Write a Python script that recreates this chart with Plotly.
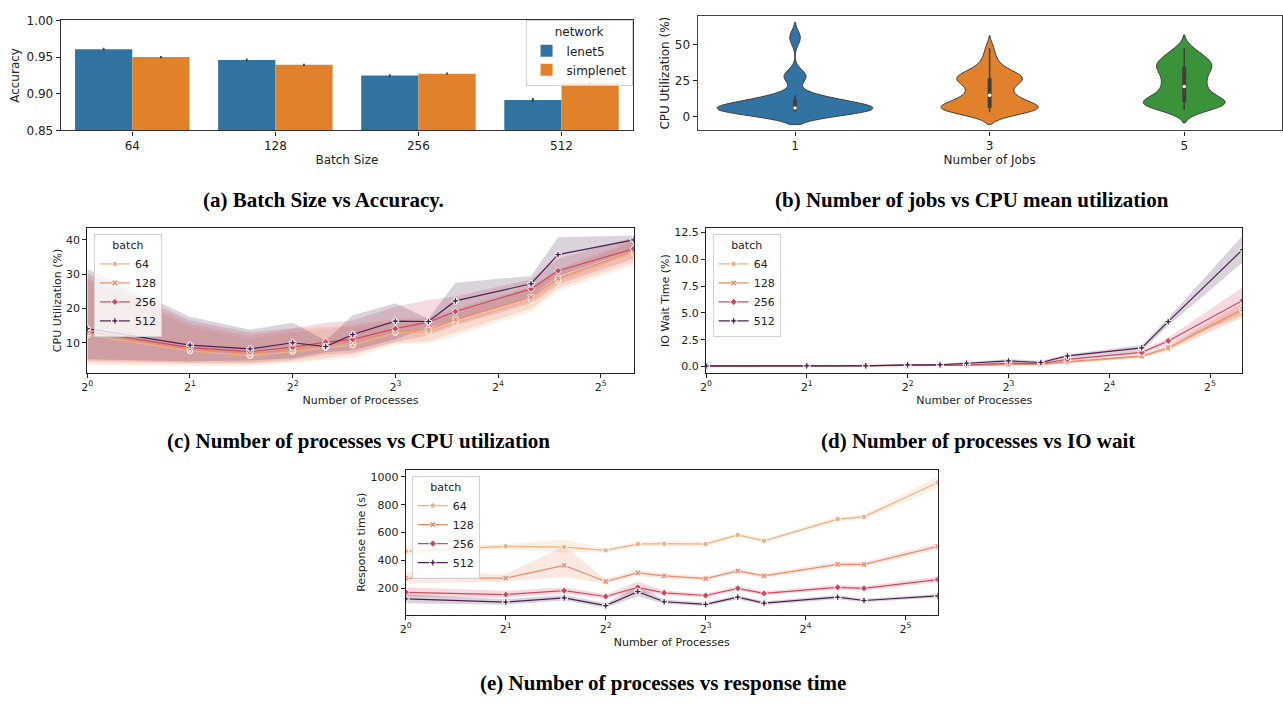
import numpy as np
import plotly.graph_objects as go

FIG_W, FIG_H = 1283, 705

# ---------------- (a) accuracy per batch size ----------------
batch_sizes = ["64", "128", "256", "512"]
acc_lenet5 = [0.9608, 0.9461, 0.9248, 0.8914]
acc_lenet5_err = [0.002, 0.002, 0.002, 0.003]
acc_simplenet = [0.9501, 0.9395, 0.9274, 0.9141]
acc_simplenet_err = [0.0015, 0.0015, 0.0015, 0.0017]

# ---------------- (b) CPU utilization samples per number of jobs ----------------
job_labels = ["1", "3", "5"]
cpu_jobs_1 = [3.4, 3.5, 3.6, 3.6, 3.7, 3.7, 3.8, 3.8, 3.9, 3.9,
              4.1, 4.4, 4.7, 5.0, 5.2, 5.4, 5.5, 5.6, 5.8, 5.9, 6.0,
              6.3, 6.8, 7.4, 8.1, 8.9, 9.6, 10.4, 11.2, 11.8, 12.3,
              12.9, 13.4, 14.8, 26.4, 27.4, 28.4, 29.6, 53.0, 56.5]
cpu_jobs_3 = [3.0, 3.4, 3.8, 4.2, 4.6, 4.9, 5.2, 5.4, 5.6, 5.8,
              6.2, 6.7, 7.3, 8.0, 8.8, 9.7, 10.8, 12.0, 13.2, 14.4,
              15.2, 16.8, 18.6, 20.4, 22.0, 23.4, 24.5, 25.4, 26.0, 26.5,
              27.0, 27.6, 28.3, 29.2, 30.4, 32.0, 34.2, 37.2, 41.5, 47.7]
cpu_jobs_5 = [4.6, 5.5, 6.3, 7.0, 7.6, 8.2, 8.7, 9.1, 9.5, 9.8,
              10.2, 10.7, 11.3, 12.1, 13.2, 14.5, 16.0, 17.6, 19.2, 20.5,
              21.3, 22.9, 24.5, 26.1, 27.6, 29.0, 30.3, 31.6, 32.9, 34.2,
              35.0, 35.8, 36.7, 37.7, 38.8, 40.0, 41.5, 43.2, 45.3, 47.7]
kde_bandwidths = [4.5, 4.2, 4.5]

# ---------------- (c)-(e) metrics vs number of processes ----------------
processes = [1, 2, 3, 4, 5, 6, 8, 10, 12, 20, 24, 40]
batch_labels = ["64", "128", "256", "512"]

# CPU utilization (%)
cpu_b64 = [12.2, 7.6, 6.2, 7.4, 8.6, 9.3, 12.9, 13.1, 15.8, 22.4, 28.1, 36.3]
cpu_b64_lo = [3.5, 3.2, 3.2, 4.2, 5.0, 5.5, 9.5, 9.8, 12.0, 19.0, 25.0, 32.5]
cpu_b64_hi = [28.0, 14.5, 11.0, 13.0, 14.0, 14.8, 16.0, 16.2, 18.8, 25.5, 30.5, 39.5]
cpu_b128 = [12.9, 8.1, 7.0, 7.9, 9.6, 10.3, 13.3, 13.8, 16.8, 23.3, 28.7, 36.8]
cpu_b128_lo = [4.2, 3.8, 3.8, 4.5, 5.5, 6.5, 10.0, 10.5, 13.0, 20.0, 26.0, 33.5]
cpu_b128_hi = [29.0, 15.5, 12.0, 14.0, 14.5, 15.2, 17.0, 17.2, 20.0, 26.5, 31.5, 40.0]
cpu_b256 = [13.3, 8.6, 7.4, 8.7, 10.2, 11.0, 14.1, 16.0, 19.1, 25.7, 31.0, 37.4]
cpu_b256_lo = [4.8, 4.2, 4.2, 5.0, 6.5, 7.0, 10.2, 12.2, 15.0, 21.5, 27.0, 34.5]
cpu_b256_hi = [30.3, 16.5, 13.0, 14.2, 15.8, 16.5, 20.5, 22.5, 23.5, 28.5, 34.5, 40.8]
cpu_b512 = [14.1, 9.3, 8.2, 10.0, 8.9, 12.4, 16.3, 16.2, 22.2, 27.2, 35.7, 40.0]
cpu_b512_lo = [5.2, 4.6, 4.8, 5.5, 7.2, 7.8, 11.0, 14.5, 16.5, 23.5, 29.5, 37.0]
cpu_b512_hi = [31.5, 17.6, 13.8, 15.8, 10.6, 18.0, 21.5, 17.0, 27.5, 29.5, 40.8, 41.3]

# IO wait time (%)
io_b64 = [0.03, 0.03, 0.03, 0.07, 0.07, 0.10, 0.15, 0.18, 0.37, 0.91, 1.65, 5.24]
io_b64_lo = [0.01, 0.01, 0.01, 0.04, 0.04, 0.06, 0.09, 0.12, 0.30, 0.80, 1.45, 4.55]
io_b64_hi = [0.05, 0.05, 0.05, 0.10, 0.10, 0.15, 0.22, 0.25, 0.46, 1.00, 1.85, 5.85]
io_b128 = [0.03, 0.04, 0.04, 0.08, 0.08, 0.12, 0.20, 0.22, 0.46, 0.98, 1.77, 5.34]
io_b128_lo = [0.01, 0.02, 0.02, 0.05, 0.05, 0.08, 0.13, 0.15, 0.37, 0.86, 1.55, 4.60]
io_b128_hi = [0.05, 0.06, 0.06, 0.12, 0.12, 0.18, 0.30, 0.30, 0.56, 1.10, 2.00, 6.00]
io_b256 = [0.04, 0.05, 0.05, 0.10, 0.10, 0.15, 0.30, 0.27, 0.67, 1.31, 2.38, 6.16]
io_b256_lo = [0.02, 0.03, 0.03, 0.06, 0.06, 0.10, 0.20, 0.18, 0.55, 1.15, 2.05, 4.80]
io_b256_hi = [0.06, 0.07, 0.07, 0.15, 0.15, 0.22, 0.42, 0.36, 0.80, 1.50, 2.70, 7.40]
io_b512 = [0.05, 0.06, 0.06, 0.15, 0.16, 0.30, 0.52, 0.37, 0.98, 1.74, 4.18, 10.90]
io_b512_lo = [0.03, 0.03, 0.03, 0.08, 0.08, 0.20, 0.38, 0.26, 0.80, 1.45, 3.80, 9.70]
io_b512_hi = [0.08, 0.09, 0.10, 0.25, 0.25, 0.40, 0.70, 0.50, 1.15, 2.00, 4.50, 12.20]

# Response time (s)
rt_b64 = [464, 500, 495, 471, 516, 519, 516, 582, 540, 696, 712, 960]
rt_b64_lo = [430, 480, 455, 455, 498, 500, 498, 565, 524, 678, 693, 918]
rt_b64_hi = [500, 515, 548, 485, 535, 538, 535, 598, 556, 715, 730, 1005]
rt_b128 = [271, 271, 363, 247, 309, 287, 268, 323, 287, 370, 370, 500]
rt_b128_lo = [233, 245, 280, 230, 288, 270, 252, 306, 272, 352, 352, 478]
rt_b128_hi = [315, 300, 500, 265, 330, 305, 285, 340, 302, 390, 388, 525]
rt_b256 = [169, 153, 181, 139, 205, 165, 146, 198, 162, 205, 198, 261]
rt_b256_lo = [138, 130, 158, 122, 170, 148, 132, 182, 148, 190, 182, 242]
rt_b256_hi = [205, 180, 205, 155, 245, 182, 160, 215, 176, 222, 214, 282]
rt_b512 = [122, 99, 129, 73, 174, 101, 82, 134, 91, 134, 110, 143]
rt_b512_lo = [90, 80, 110, 58, 140, 86, 70, 118, 78, 120, 98, 131]
rt_b512_hi = [155, 120, 150, 90, 210, 118, 95, 150, 104, 148, 122, 155]

# ---------------- styling ----------------
BAR_COLORS = ["#3274a1", "#e1812c"]
VIOLIN_COLORS = ["#3274a1", "#e1812c", "#3a923a"]
BATCH_COLORS = ["#edb081", "#e98c6b", "#d2485d", "#4b2251"]
BATCH_SYMBOLS = ["circle", "x", "diamond", "cross"]
INK = "#3f3f3f"
SANS = "DejaVu Sans"


def xdom(left, right):
    return [left / FIG_W, right / FIG_W]


def ydom(top, bottom):
    return [1 - bottom / FIG_H, 1 - top / FIG_H]


def rgba(hex_color, alpha):
    h = hex_color.lstrip("#")
    r, g, b = int(h[0:2], 16), int(h[2:4], 16), int(h[4:6], 16)
    return f"rgba({r},{g},{b},{alpha})"


fig = go.Figure()

# ---- (a) grouped bars with error bars ----
for name, vals, errs, color in [
    ("lenet5", acc_lenet5, acc_lenet5_err, BAR_COLORS[0]),
    ("simplenet", acc_simplenet, acc_simplenet_err, BAR_COLORS[1]),
]:
    fig.add_trace(go.Bar(
        x=batch_sizes, y=vals, name=name, marker=dict(color=color, line=dict(width=0)),
        error_y=dict(type="data", array=errs, color="#424242", thickness=1.8, width=0),
        xaxis="x", yaxis="y", legend="legend", hoverinfo="skip",
    ))

# ---- (b) violins with an inner box ----
for label, vals, color, bw in zip(job_labels, [cpu_jobs_1, cpu_jobs_3, cpu_jobs_5],
                                  VIOLIN_COLORS, kde_bandwidths):
    fig.add_trace(go.Violin(
        x=[label] * len(vals), y=vals, name=label, xaxis="x2", yaxis="y2",
        fillcolor=color, line=dict(color=INK, width=1), opacity=1,
        bandwidth=bw, spanmode="soft", points=False, box_visible=False,
        meanline_visible=False, scalegroup="jobs", scalemode="width",
        showlegend=False, hoverinfo="skip",
    ))
for label, vals in zip(job_labels, [cpu_jobs_1, cpu_jobs_3, cpu_jobs_5]):
    arr = np.asarray(vals)
    q1, med, q3 = np.percentile(arr, [25, 50, 75])
    reach = 1.5 * (q3 - q1)
    w_lo = arr[arr >= q1 - reach].min()
    w_hi = arr[arr <= q3 + reach].max()
    fig.add_trace(go.Scatter(x=[label, label], y=[w_lo, w_hi], mode="lines",
                             line=dict(color=INK, width=1.5), xaxis="x2", yaxis="y2",
                             showlegend=False, hoverinfo="skip"))
    fig.add_trace(go.Scatter(x=[label, label], y=[q1, q3], mode="lines",
                             line=dict(color=INK, width=4), xaxis="x2", yaxis="y2",
                             showlegend=False, hoverinfo="skip"))
    fig.add_trace(go.Scatter(x=[label], y=[med], mode="markers",
                             marker=dict(color="white", size=3.5), xaxis="x2", yaxis="y2",
                             showlegend=False, hoverinfo="skip"))


# ---- (c)-(e) lines with confidence bands ----
def add_band_panel(series, xa, ya, legend_id):
    for (label, mean, lo, hi), color in zip(series, BATCH_COLORS):
        fig.add_trace(go.Scatter(
            x=processes + processes[::-1], y=hi + lo[::-1], fill="toself",
            fillcolor=rgba(color, 0.2), line=dict(width=0), mode="lines",
            xaxis=xa, yaxis=ya, showlegend=False, hoverinfo="skip",
        ))
    for (label, mean, lo, hi), color, sym in zip(series, BATCH_COLORS, BATCH_SYMBOLS):
        fig.add_trace(go.Scatter(
            x=processes, y=mean, name=label, mode="lines+markers",
            line=dict(color=color, width=1.2),
            marker=dict(symbol=sym, size=5.5, color=color, line=dict(color="white", width=1)),
            xaxis=xa, yaxis=ya, legend=legend_id, hoverinfo="skip",
        ))


add_band_panel([
    ("64", cpu_b64, cpu_b64_lo, cpu_b64_hi),
    ("128", cpu_b128, cpu_b128_lo, cpu_b128_hi),
    ("256", cpu_b256, cpu_b256_lo, cpu_b256_hi),
    ("512", cpu_b512, cpu_b512_lo, cpu_b512_hi),
], "x3", "y3", "legend2")
add_band_panel([
    ("64", io_b64, io_b64_lo, io_b64_hi),
    ("128", io_b128, io_b128_lo, io_b128_hi),
    ("256", io_b256, io_b256_lo, io_b256_hi),
    ("512", io_b512, io_b512_lo, io_b512_hi),
], "x4", "y4", "legend3")
add_band_panel([
    ("64", rt_b64, rt_b64_lo, rt_b64_hi),
    ("128", rt_b128, rt_b128_lo, rt_b128_hi),
    ("256", rt_b256, rt_b256_lo, rt_b256_hi),
    ("512", rt_b512, rt_b512_lo, rt_b512_hi),
], "x5", "y5", "legend4")


# ---------------- axes ----------------
def axis(domain, anchor, size, title, standoff, color="#222", lw=1, **kw):
    d = dict(
        domain=domain, anchor=anchor, showline=True, mirror=True, linecolor=color,
        linewidth=lw, ticks="outside", ticklen=4, tickwidth=1, tickcolor="#222",
        showgrid=False, zeroline=False,
        tickfont=dict(family=SANS, size=size, color="#222"),
        title=dict(text=title, font=dict(family=SANS, size=size, color="#222"),
                   standoff=standoff),
    )
    d.update(kw)
    return d


pow2_vals = [1, 2, 4, 8, 16, 32]
pow2_text = [f"2<sup>{k}</sup>" for k in range(6)]
log_range = [0, float(np.log10(40))]

layout_axes = dict(
    xaxis=axis(xdom(55, 630), "y", 12, "Batch Size", 3, color="#333", lw=1.2,
               type="category", range=[-0.5, 3.5]),
    yaxis=axis(ydom(13.7, 126), "x", 12, "Accuracy", 4, color="#333", lw=1.2,
               range=[0.85, 1.0], tickvals=[0.85, 0.90, 0.95, 1.00], tickformat=".2f"),
    xaxis2=axis(xdom(695, 1281.5), "y2", 12, "Number of Jobs", 3, color="#444", lw=1.4,
                type="category", range=[-0.5, 2.5],
                categoryorder="array", categoryarray=job_labels),
    yaxis2=axis(ydom(9, 126), "x2", 12, "CPU Utilization (%)", 2, color="#444", lw=1.4,
                range=[-9.7, 70], tickvals=[0, 25, 50]),
    xaxis3=axis(xdom(81.7, 630.7), "y3", 11, "Number of Processes", 0,
                type="log", range=log_range, tickvals=pow2_vals, ticktext=pow2_text),
    yaxis3=axis(ydom(225.7, 373), "x3", 11, "CPU Utilization (%)", 2,
                range=[1.3, 43.4], tickvals=[10, 20, 30, 40]),
    xaxis4=axis(xdom(703.3, 1242.3), "y4", 11, "Number of Processes", 0,
                type="log", range=log_range, tickvals=pow2_vals, ticktext=pow2_text),
    yaxis4=axis(ydom(225.7, 373.3), "x4", 11, "IO Wait Time (%)", 2,
                range=[-0.6, 12.9], tickvals=[0, 2.5, 5, 7.5, 10, 12.5], tickformat=".1f"),
    xaxis5=axis(xdom(401.7, 936), "y5", 11, "Number of Processes", 0,
                type="log", range=log_range, tickvals=pow2_vals, ticktext=pow2_text),
    yaxis5=axis(ydom(472.3, 620), "x5", 11, "Response time (s)", 2,
                range=[8, 1050], tickvals=[200, 400, 600, 800, 1000]),
)


def legend_box(left, top, size, title):
    return dict(
        x=left / FIG_W, y=1 - top / FIG_H, xanchor="left", yanchor="top",
        bgcolor="rgba(255,255,255,0.8)", bordercolor="#d0d0d0", borderwidth=1,
        font=dict(family=SANS, size=size, color="#222"), itemwidth=30,
        title=dict(text=title, side="top center", font=dict(family=SANS, size=size, color="#222")),
        tracegroupgap=0,
    )


captions = [
    ("(a) Batch Size vs Accuracy.", 319, 197),
    ("(b) Number of jobs vs CPU mean utilization", 971, 197),
    ("(c) Number of processes vs CPU utilization", 354, 443),
    ("(d) Number of processes vs IO wait", 977, 443),
    ("(e) Number of processes vs response time", 660, 690),
]

fig.update_layout(
    width=FIG_W, height=FIG_H, autosize=False,
    margin=dict(l=0, r=0, t=0, b=0),
    paper_bgcolor="white", plot_bgcolor="white",
    barmode="group", bargap=0.2, bargroupgap=0,
    violinmode="overlay", violingap=0.2, violingroupgap=0,
    legend=legend_box(522, 13, 12, "network"),
    legend2=legend_box(88.3, 231.7, 11, "batch"),
    legend3=legend_box(710, 231.7, 11, "batch"),
    legend4=legend_box(407.7, 478.3, 11, "batch"),
    annotations=[
        dict(text=f"<b>{txt}</b>", x=cx / FIG_W, y=1 - cy / FIG_H, xref="paper", yref="paper",
             xanchor="center", yanchor="middle", showarrow=False,
             font=dict(family="Liberation Serif", size=21, color="black"))
        for txt, cx, cy in captions
    ],
    **layout_axes,
)

fig.write_html("out.html")
